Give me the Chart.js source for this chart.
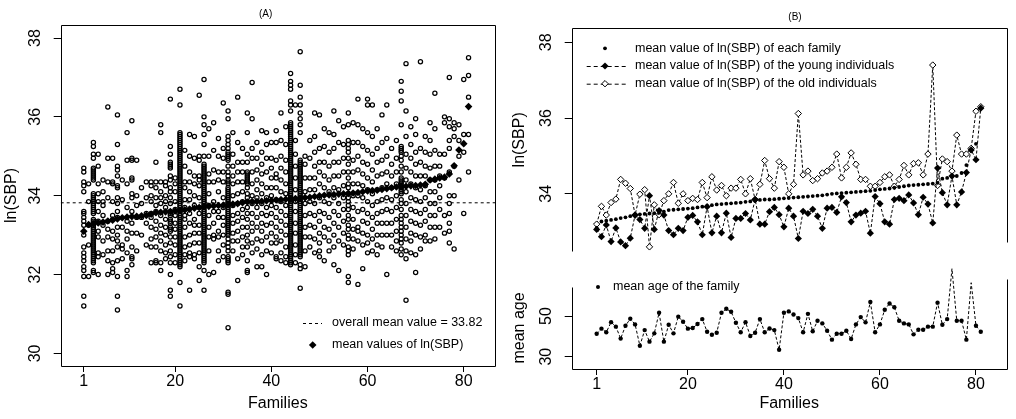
<!DOCTYPE html>
<html>
<head>
<meta charset="utf-8">
<script src="https://cdn.jsdelivr.net/npm/chart.js@4"></script>
<style>
  body { margin: 0; background: #fff; width: 1016px; height: 419px; overflow: hidden; position: relative; }
  canvas { position: absolute; }
</style>
</head>
<body>
<canvas id="panelA" width="520" height="419" style="left:0;top:0"></canvas>
<canvas id="panelB1" width="511" height="270" style="left:505px;top:0"></canvas>
<canvas id="panelB2" width="511" height="179" style="left:505px;top:240px"></canvas>
<script>
// ---- data ----
const xTicks = [1, 20, 40, 60, 80];
const sbpTicks = [30, 32, 34, 36, 38];
const sbpTicksB = [34, 36, 38];
const ageTicks = [30, 50];
const overallMean = 33.82;

// family means of ln(SBP), families sorted by mean
const familyMean = [33.10, 33.27, 33.29, 33.31, 33.33, 33.36, 33.38, 33.41, 33.44, 33.46,
  33.47, 33.48, 33.49, 33.50, 33.53, 33.57, 33.58, 33.59, 33.60, 33.61,
  33.62, 33.64, 33.66, 33.68, 33.70, 33.72, 33.73, 33.74, 33.75, 33.76,
  33.77, 33.79, 33.80, 33.82, 33.84, 33.85, 33.85, 33.86, 33.87, 33.88,
  33.89, 33.90, 33.91, 33.92, 33.93, 33.94, 33.95, 33.96, 33.98, 34.00,
  34.01, 34.02, 34.03, 34.04, 34.05, 34.06, 34.07, 34.08, 34.10, 34.12,
  34.13, 34.14, 34.16, 34.18, 34.20, 34.22, 34.23, 34.24, 34.25, 34.26,
  34.27, 34.29, 34.40, 34.42, 34.45, 34.47, 34.55, 34.76, 35.16, 35.32, 36.26];

const youngMean = [33.06, 32.87, 33.18, 32.74, 33.10, 32.73, 32.63, 32.83, 33.44, 33.32,
  33.09, 33.95, 33.06, 33.56, 33.44, 33.03, 32.92, 33.09, 33.03, 33.38,
  33.43, 33.26, 32.92, 33.66, 32.97, 33.41, 32.97, 33.49, 32.85, 33.35,
  33.35, 33.48, 33.31, 33.85, 33.20, 33.20, 33.53, 33.64, 33.45, 33.13,
  33.62, 33.41, 32.82, 33.54, 33.48, 33.59, 33.41, 33.09, 33.62, 33.64,
  33.51, 33.92, 33.77, 33.26, 33.44, 33.49, 33.54, 32.96, 33.93, 33.74,
  33.26, 33.20, 33.85, 33.88, 33.82, 33.97, 33.76, 33.45, 33.91, 33.73,
  33.23, 34.68, 34.03, 33.71, 34.47, 33.71, 34.05, 34.56, 35.16, 34.90, 36.26];

const oldMean = [33.20, 33.67, 33.44, 33.77, 33.86, 34.38, 34.28, 34.14, 33.44, 33.99,
  34.11, 32.60, 33.71, 33.45, 33.82, 34.00, 34.30, 33.75, 34.00, 33.82,
  33.88, 33.85, 34.30, 33.90, 34.45, 34.10, 34.22, 33.95, 34.15, 34.15,
  34.38, 34.00, 34.40, 33.85, 34.25, 34.88, 34.40, 34.15, 34.85, 34.70,
  34.00, 34.25, 36.12, 34.50, 34.60, 34.35, 34.40, 34.55, 34.60, 34.70,
  35.05, 34.42, 34.70, 35.08, 34.78, 34.38, 34.38, 34.20, 34.20, 34.30,
  34.45, 34.50, 34.20, 34.38, 34.75, 34.50, 34.80, 34.82, 34.50, 35.05,
  37.40, 34.22, 34.92, 34.85, 34.60, 35.55, 35.05, 35.05, 35.20, 36.18, 36.30];

const meanAge = [41.3, 43.8, 42.0, 47.0, 44.8, 38.9, 45.2, 48.7, 45.9, 35.4,
  43.1, 37.4, 41.5, 51.6, 37.4, 45.7, 41.5, 49.7, 47.2, 43.8,
  44.1, 46.1, 48.5, 42.3, 40.8, 41.8, 51.6, 53.6, 52.1, 46.7,
  42.0, 47.0, 40.2, 41.8, 48.5, 42.0, 43.9, 43.1, 33.4, 51.6,
  52.3, 50.8, 49.0, 42.0, 51.1, 42.5, 47.7, 46.4, 42.8, 38.4,
  41.3, 41.3, 42.8, 38.7, 45.9, 49.5, 46.9, 56.9, 42.0, 45.9,
  53.1, 56.2, 54.3, 47.7, 46.4, 45.9, 41.0, 43.3, 43.3, 44.8,
  44.8, 56.6, 45.7, 48.5, 73.3, 47.7, 47.7, 38.4, 66.4, 45.2, 42.3];

// individual ln(SBP) values, one list per family
const sbpByFamily = [
  [34.7, 34.6, 34.35, 34.25, 34.1, 33.6, 33.55, 33.45, 33.35, 33.25, 33.0, 32.7, 32.55, 32.45, 32.35, 32.2, 32.1, 31.95, 31.45, 31.2],
  [34.3, 33.85, 33.25, 32.75, 31.95],
  [35.35, 35.25, 35.05, 34.95, 34.7, 34.65, 34.6, 34.55, 34.5, 34.45, 34.4, 34.05, 34.0, 33.95, 33.9, 33.85, 33.8, 33.75, 33.7, 33.65, 33.6, 33.55, 33.4, 33.35, 33.3, 33.25, 33.2, 33.15, 33.1, 33.05, 33.0, 32.95, 32.9, 32.85, 32.8, 32.75, 32.7, 32.65, 32.6, 32.55, 32.5, 32.45, 32.4, 32.35, 32.3, 32.1, 32.05],
  [35.05, 34.75, 34.3, 34.05, 33.85, 33.6, 33.35, 33.1, 32.95, 32.55, 32.45, 32.0],
  [34.4, 34.1, 33.85, 33.75, 33.5, 33.25, 32.85, 32.5],
  [36.25, 34.95, 34.35, 33.95, 33.35, 33.15, 32.95, 32.6, 32.35, 32.0],
  [34.95, 34.35, 34.3, 33.85, 33.5, 33.4, 33.1, 32.9, 32.6, 32.3, 32.15, 32.05],
  [36.05, 35.3, 34.75, 34.65, 34.5, 34.25, 34.2, 33.95, 33.8, 33.6, 33.45, 33.2, 33.0, 32.85, 32.7, 32.35, 31.95, 31.45, 31.1],
  [34.4, 33.9, 33.2, 32.75, 32.65, 32.4],
  [35.6, 34.9, 34.3, 33.7, 33.35, 33.1, 32.9, 32.55, 32.1, 31.95],
  [35.9, 34.95, 34.9, 34.45, 34.4, 34.05, 33.95, 33.6, 33.3, 33.05, 32.7, 32.45, 32.4, 32.25],
  [34.9, 34.0, 33.75, 33.45, 33.05, 32.6],
  [34.2, 33.8, 33.45, 33.0],
  [34.35, 33.95, 33.55, 33.3, 32.75],
  [34.35, 34.25, 34.0, 33.85, 33.55, 33.45, 33.2, 32.9, 32.7, 32.3],
  [34.85, 34.35, 34.2, 33.95, 33.75, 33.6, 33.35, 33.15, 32.95, 32.7, 32.35, 32.3],
  [35.8, 35.6, 34.35, 34.1, 33.95, 33.8, 33.5, 33.25, 33.05, 32.85, 32.6, 32.3, 32.1],
  [34.35, 34.25, 34.0, 33.85, 33.7, 33.4, 33.2, 33.0, 32.75, 32.55, 32.4],
  [36.45, 35.25, 35.05, 34.85, 34.8, 34.75, 34.7, 34.5, 34.4, 34.2, 34.1, 33.95, 33.8, 33.6, 33.55, 33.5, 33.4, 33.35, 33.3, 33.2, 33.15, 33.1, 32.95, 32.8, 32.6, 32.45, 32.3, 32.0, 31.6, 31.45],
  [34.45, 34.3, 34.1, 33.85, 33.65, 33.5, 33.3, 33.15, 32.95, 32.75, 32.5, 32.3],
  [36.7, 36.3, 35.6, 35.55, 35.5, 35.45, 35.4, 35.35, 35.3, 35.25, 35.2, 35.15, 35.1, 35.05, 35.0, 34.95, 34.9, 34.85, 34.8, 34.75, 34.7, 34.65, 34.6, 34.55, 34.5, 34.45, 34.4, 34.35, 34.3, 34.25, 34.2, 34.15, 34.1, 34.05, 34.0, 33.95, 33.9, 33.85, 33.8, 33.75, 33.7, 33.65, 33.6, 33.55, 33.5, 33.45, 33.4, 33.35, 33.3, 33.25, 33.2, 33.15, 33.1, 33.05, 33.0, 32.95, 32.9, 32.85, 32.8, 32.75, 32.7, 32.65, 32.6, 32.55, 32.5, 32.45, 32.4, 32.35, 32.3, 32.25, 32.2, 31.8, 31.2],
  [35.15, 34.75, 34.35, 34.2, 33.9, 33.7, 33.5, 33.4, 33.2, 32.95, 32.7, 32.5, 32.35],
  [35.55, 35.0, 34.6, 34.35, 34.1, 33.9, 33.55, 33.3, 33.0, 32.75, 32.55, 32.45, 31.6],
  [35.5, 34.95, 34.5, 34.3, 34.0, 33.75, 33.4, 33.25, 33.05, 32.8, 32.5, 32.4],
  [36.55, 35.0, 34.9, 34.5, 34.4, 34.25, 33.95, 33.7, 33.55, 33.25, 33.05, 32.8, 32.55, 32.2, 31.85],
  [36.95, 36.0, 35.8, 35.55, 35.3, 35.0, 34.8, 34.75, 34.7, 34.65, 34.6, 34.55, 34.5, 34.45, 34.4, 34.35, 34.3, 34.25, 34.2, 34.15, 34.1, 34.05, 34.0, 33.95, 33.9, 33.85, 33.8, 33.75, 33.7, 33.65, 33.6, 33.55, 33.5, 33.45, 33.4, 33.35, 33.3, 33.25, 33.2, 33.15, 33.1, 33.05, 33.0, 32.95, 32.9, 32.85, 32.8, 32.75, 32.7, 32.65, 32.6, 32.55, 32.5, 32.45, 32.4, 32.35, 32.3, 32.1, 31.6],
  [35.7, 35.0, 34.55, 34.35, 34.05, 33.75, 33.5, 33.2, 32.95, 32.6, 32.0],
  [35.85, 35.15, 34.65, 34.35, 33.85, 33.6, 33.3, 33.0, 32.9, 32.05],
  [35.45, 35.0, 34.6, 34.4, 34.1, 33.6, 33.45, 33.1, 32.95, 32.6, 32.35],
  [36.35, 35.2, 34.95, 34.6, 34.35, 33.95, 33.7, 33.45, 33.25, 33.0, 32.75, 32.45],
  [36.15, 35.95, 35.5, 35.4, 35.3, 35.2, 35.1, 35.05, 35.0, 34.95, 34.9, 34.75, 34.6, 34.5, 34.4, 34.35, 34.3, 34.2, 34.15, 34.1, 34.05, 34.0, 33.95, 33.9, 33.85, 33.8, 33.75, 33.7, 33.65, 33.6, 33.55, 33.5, 33.45, 33.4, 33.35, 33.3, 33.25, 33.2, 33.15, 33.1, 33.05, 33.0, 32.9, 32.8, 32.7, 32.6, 32.45, 32.4, 32.35, 32.3, 31.55, 31.5, 30.65],
  [35.6, 35.05, 34.75, 34.5, 34.3, 34.0, 33.75, 33.5, 33.3, 33.05, 32.85, 32.6],
  [36.5, 35.35, 34.85, 34.6, 34.35, 34.05, 33.8, 33.55, 33.35, 33.1, 32.85, 32.4, 31.85],
  [35.2, 34.85, 34.6, 34.35, 34.1, 33.85, 33.65, 33.45, 33.2, 32.95, 32.7, 32.5],
  [36.1, 35.6, 35.05, 34.85, 34.6, 34.55, 34.5, 34.45, 34.4, 34.35, 34.3, 34.2, 34.05, 33.95, 33.85, 33.7, 33.55, 33.4, 33.2, 33.0, 32.85, 32.7, 32.35, 32.1, 32.05],
  [36.87, 35.95, 35.2, 34.95, 34.6, 34.3, 34.0, 33.8, 33.55, 33.3, 33.1, 32.8, 32.55],
  [35.35, 34.95, 34.65, 34.4, 34.15, 33.95, 33.7, 33.45, 33.2, 32.9, 32.65, 32.2],
  [35.65, 35.1, 34.8, 34.55, 34.3, 34.05, 33.8, 33.55, 33.3, 33.1, 32.85, 32.5, 32.2],
  [35.6, 35.3, 34.95, 34.6, 34.2, 33.95, 33.7, 33.5, 33.25, 32.95, 32.6, 32.0],
  [35.35, 34.95, 34.7, 34.45, 34.2, 34.0, 33.75, 33.55, 33.3, 33.05, 32.8, 32.55],
  [35.65, 35.35, 34.9, 34.55, 34.45, 34.2, 33.9, 33.7, 33.45, 33.2, 32.95, 32.8, 32.45, 32.4],
  [36.1, 35.4, 35.0, 34.7, 34.4, 34.1, 33.85, 33.6, 33.35, 33.1, 32.85, 32.55, 32.35],
  [35.75, 35.3, 34.9, 34.6, 34.3, 34.05, 33.75, 33.5, 33.25, 33.0, 32.7, 32.45, 32.3],
  [37.1, 36.9, 36.8, 36.7, 36.4, 36.3, 36.15, 35.85, 35.8, 35.75, 35.7, 35.65, 35.6, 35.55, 35.5, 35.45, 35.4, 35.35, 35.3, 35.25, 35.2, 35.15, 35.1, 35.05, 35.0, 34.95, 34.9, 34.85, 34.8, 34.75, 34.7, 34.65, 34.6, 34.55, 34.5, 34.45, 34.4, 34.35, 34.3, 34.25, 34.2, 34.15, 34.1, 34.05, 34.0, 33.95, 33.9, 33.85, 33.8, 33.75, 33.7, 33.65, 33.6, 33.55, 33.5, 33.45, 33.4, 33.35, 33.3, 33.25, 33.2, 33.15, 33.1, 33.05, 33.0, 32.95, 32.9, 32.85, 32.8, 32.75, 32.7, 32.65, 32.6, 32.55, 32.5, 32.45, 32.4, 32.35, 32.3, 32.25],
  [36.3, 35.4, 35.05, 34.75, 34.45, 34.15, 33.85, 33.6, 33.3, 33.05, 32.75, 32.5, 32.3],
  [37.65, 36.8, 36.5, 36.3, 36.1, 35.95, 35.8, 35.6, 34.9, 34.85, 34.8, 34.75, 34.7, 34.65, 34.6, 34.55, 34.5, 34.45, 34.4, 34.35, 34.3, 34.25, 34.2, 34.15, 34.1, 34.05, 34.0, 33.95, 33.9, 33.85, 33.8, 33.75, 33.7, 33.65, 33.6, 33.55, 33.5, 33.45, 33.4, 33.35, 33.3, 33.25, 33.2, 33.15, 33.1, 33.05, 33.0, 32.95, 32.9, 32.85, 32.8, 32.75, 32.7, 32.65, 32.6, 32.55, 32.5, 32.45, 32.25, 32.15, 31.65],
  [35.0, 34.8, 34.45, 34.1, 33.8, 33.5, 33.2, 32.95, 32.6, 32.2],
  [35.4, 34.95, 34.45, 34.15, 33.85, 33.55, 33.25, 32.95, 32.7],
  [36.1, 35.5, 35.1, 34.75, 34.45, 34.15, 33.8, 33.5, 33.2, 32.9, 32.55],
  [36.05, 35.2, 34.85, 34.6, 34.3, 33.95, 33.6, 33.35, 33.05, 32.8, 32.6, 32.45],
  [35.7, 35.25, 34.85, 34.5, 34.2, 33.85, 33.55, 33.2, 32.95, 32.35],
  [35.6, 35.1, 34.75, 34.4, 34.1, 33.8, 33.45, 33.15, 32.85, 32.6],
  [36.15, 35.55, 35.2, 34.85, 34.5, 34.2, 33.95, 33.6, 33.3, 33.0, 32.7, 32.25],
  [35.9, 35.35, 34.85, 34.5, 34.15, 33.8, 33.5, 33.2, 32.85, 32.1],
  [35.75, 35.3, 34.95, 34.6, 34.25, 33.95, 33.65, 33.35, 33.05, 32.75],
  [36.1, 35.8, 35.4, 35.3, 35.2, 35.1, 34.95, 34.8, 34.6, 34.45, 34.3, 34.2, 34.05, 33.95, 33.85, 33.75, 33.65, 33.5, 33.4, 33.25, 33.15, 33.0, 32.9, 32.7, 32.6, 32.5, 31.95, 31.8],
  [35.85, 35.35, 34.9, 34.6, 34.3, 34.0, 33.7, 33.4, 33.15, 32.9, 32.65],
  [36.45, 35.8, 35.35, 35.0, 34.65, 34.3, 34.0, 33.6, 33.2, 33.1, 32.85, 31.75],
  [35.7, 35.25, 34.85, 34.55, 34.25, 33.95, 33.65, 33.35, 33.05, 32.75, 32.15],
  [36.45, 36.3, 35.6, 35.15, 34.8, 34.45, 34.15, 33.85, 33.55, 33.3, 33.0, 32.8, 32.55],
  [36.3, 35.5, 35.05, 34.65, 34.35, 34.05, 33.75, 33.45, 33.15, 32.9, 32.6],
  [35.7, 35.2, 34.85, 34.5, 34.15, 33.85, 33.55, 33.3, 33.0, 32.75, 32.5],
  [36.05, 35.35, 34.9, 34.55, 34.2, 33.9, 33.6, 33.3, 33.0, 32.7],
  [36.3, 35.45, 35.0, 34.6, 34.3, 33.95, 33.65, 33.3, 33.0, 32.0],
  [35.2, 34.8, 34.5, 34.2, 33.9, 33.6, 33.3, 33.0, 32.7],
  [35.4, 34.95, 34.6, 34.3, 34.0, 33.7, 33.4, 33.1, 32.85, 32.6],
  [36.9, 36.65, 36.4, 35.8, 35.25, 35.2, 35.15, 35.1, 35.0, 34.9, 34.75, 34.6, 34.45, 34.4, 34.35, 34.3, 34.25, 34.2, 34.15, 34.1, 34.05, 33.9, 33.8, 33.65, 33.5, 33.4, 33.3, 33.2, 33.1, 33.0, 32.9, 32.8, 32.65, 32.5],
  [37.35, 36.15, 35.5, 35.05, 34.7, 34.4, 34.1, 33.8, 33.5, 33.2, 32.9, 32.6, 32.4, 31.35],
  [35.75, 35.3, 34.95, 34.6, 34.3, 33.95, 33.65, 33.35, 33.05, 32.85, 32.55],
  [35.95, 35.55, 35.1, 34.8, 34.5, 34.2, 33.9, 33.6, 33.3, 33.0, 32.5, 32.05],
  [37.4, 35.2, 34.85, 34.5, 34.15, 33.85, 33.55, 33.25, 32.95, 32.65],
  [35.5, 35.1, 34.75, 34.5, 34.25, 33.95, 33.65, 33.35, 33.0, 32.85],
  [35.85, 35.4, 35.05, 34.7, 34.4, 34.1, 33.8, 33.5, 33.2, 32.85],
  [36.6, 35.7, 35.15, 34.75, 34.4, 34.1, 33.8, 33.5, 33.2, 32.9],
  [35.05, 34.75, 34.5, 34.25, 33.95, 33.65, 33.2],
  [36.0, 35.85, 35.05, 34.45, 33.5, 33.05],
  [37.0, 35.95, 35.75, 35.4, 35.2, 34.6, 34.0, 33.8, 33.55, 33.3, 33.1, 32.8],
  [35.85, 35.7, 35.5, 34.75, 34.0, 32.65],
  [35.8, 35.4, 35.0, 34.4],
  [36.95, 35.55, 35.1, 33.55],
  [37.5, 37.05, 36.5, 35.55, 34.6]
];

// ---- helpers ----
const FONT = '"Liberation Sans", Arial, Helvetica, sans-serif';
Chart.defaults.font.family = FONT;
Chart.defaults.color = '#000';

const asPoints = vals => vals.map((v, i) => ({ x: i + 1, y: v }));
const sbpPoints = [];
sbpByFamily.forEach((vals, i) => vals.forEach(v => sbpPoints.push({ x: i + 1, y: v })));

function drawMark(ctx, kind, x, y, r) {
  ctx.beginPath();
  if (kind === 'dot') {
    ctx.arc(x, y, r, 0, Math.PI * 2);
  } else {
    ctx.moveTo(x, y - r); ctx.lineTo(x + r, y); ctx.lineTo(x, y + r); ctx.lineTo(x - r, y); ctx.closePath();
  }
  if (kind === 'open') {
    ctx.fillStyle = '#fff'; ctx.fill(); ctx.fillStyle = '#000'; ctx.stroke();
  } else {
    ctx.fill();
  }
}

// box lines round the plot region (partial for panel B)
const framePlugin = {
  id: 'frame',
  afterDraw(chart, args, opts) {
    const { ctx, chartArea: a } = chart;
    const l = Math.round(a.left) + 0.5, r = Math.round(a.right) + 0.5;
    const t = Math.round(a.top) + 0.5, b = Math.round(a.bottom) + 0.5;
    ctx.save();
    ctx.strokeStyle = '#000';
    ctx.lineWidth = 1;
    ctx.beginPath();
    if (opts.top) { ctx.moveTo(l, t); ctx.lineTo(r, t); }
    if (opts.bottom) { ctx.moveTo(l, b); ctx.lineTo(r, b); }
    ctx.moveTo(l, t); ctx.lineTo(l, b);
    ctx.moveTo(r, t - (opts.rightUp || 0)); ctx.lineTo(r, b - (opts.rightCut || 0));
    ctx.stroke();
    ctx.restore();
  }
};

// panel titles and legends
const notesPlugin = {
  id: 'notes',
  afterDraw(chart, args, opts) {
    const ctx = chart.ctx;
    ctx.save();
    ctx.fillStyle = '#000';
    ctx.strokeStyle = '#000';
    ctx.lineWidth = 1;
    ctx.textBaseline = 'middle';
    (opts.items || []).forEach(it => {
      if (it.dash) {
        ctx.setLineDash(it.dash);
        ctx.beginPath(); ctx.moveTo(it.x0, it.y + 0.5); ctx.lineTo(it.x1, it.y + 0.5); ctx.stroke();
        ctx.setLineDash([]);
      }
      if (it.mark) drawMark(ctx, it.mark, it.mx, it.y, it.r);
      if (it.text) {
        ctx.font = it.font;
        ctx.textAlign = it.align || 'left';
        ctx.fillText(it.text, it.tx, it.y);
      }
    });
    ctx.restore();
  }
};

function xScale(min, max, opts) {
  return Object.assign({
    type: 'linear', min: min, max: max,
    afterBuildTicks: s => { s.ticks = xTicks.map(v => ({ value: v })); },
    grid: { drawOnChartArea: false, tickLength: 6, color: '#000' },
    border: { display: false },
    ticks: { font: { size: 16 }, padding: 0, maxRotation: 0, autoSkip: false },
    title: { display: true, text: 'Families', font: { size: 16 }, padding: { top: 0, bottom: 6 } }
  }, opts);
}

function yScale(min, max, ticks, title, width, titlePad) {
  return {
    type: 'linear', min: min, max: max,
    afterBuildTicks: s => { s.ticks = ticks.map(v => ({ value: v })); },
    grid: { drawOnChartArea: false, tickLength: 7, color: '#000' },
    border: { display: false },
    ticks: { font: { size: 16 }, minRotation: 90, maxRotation: 90, crossAlign: 'center', padding: 9 },
    title: { display: true, text: title, font: { size: 16 }, padding: { top: titlePad, bottom: 0 } },
    afterFit: s => { s.width = width; }
  };
}

const small = '12.5px ' + FONT;

// ---- panel A ----
new Chart(document.getElementById('panelA'), {
  type: 'scatter',
  data: {
    datasets: [
      {
        data: sbpPoints, order: 3,
        pointStyle: 'circle', pointRadius: 2.1, pointBorderWidth: 1.25,
        pointBorderColor: '#000', pointBackgroundColor: 'rgba(0,0,0,0)'
      },
      {
        type: 'line', order: 2,
        data: [{ x: -3.8, y: overallMean }, { x: 86.5, y: overallMean }],
        borderColor: '#000', borderWidth: 1, borderDash: [3, 3], pointRadius: 0
      },
      {
        data: asPoints(familyMean), order: 1,
        pointStyle: 'rectRot', pointRadius: 3.8, pointBorderWidth: 0,
        pointBackgroundColor: '#000', pointBorderColor: '#000'
      }
    ]
  },
  options: {
    responsive: false, animation: false,
    layout: { padding: { top: 25, right: 25, left: 0, bottom: 0 } },
    scales: {
      x: xScale(-3.8, 86.5, { afterFit: s => { s.height = 53; } }),
      y: yScale(29.68, 38.33, sbpTicks, 'ln(SBP)', 60.7, 2.4)
    },
    plugins: {
      legend: { display: false }, tooltip: { enabled: false },
      frame: { top: true, bottom: true },
      notes: {
        items: [
          { text: '(A)', tx: 265.7, y: 14, font: '10px ' + FONT, align: 'center' },
          { dash: [3, 3], x0: 303, x1: 322, y: 323, text: 'overall mean value = 33.82', tx: 332, font: small },
          { mark: 'diamond', mx: 312.7, r: 3.8, y: 345, text: 'mean values of ln(SBP)', tx: 332, font: small }
        ]
      }
    }
  },
  plugins: [framePlugin, notesPlugin]
});

// ---- panel B, upper part ----
new Chart(document.getElementById('panelB1'), {
  type: 'line',
  data: {
    datasets: [
      {
        data: asPoints(familyMean), showLine: false, order: 1,
        pointStyle: 'circle', pointRadius: 1.9, pointBorderWidth: 0,
        pointBackgroundColor: '#000'
      },
      {
        data: asPoints(youngMean), order: 2,
        borderColor: '#000', borderWidth: 1, borderDash: [3, 2],
        pointStyle: 'rectRot', pointRadius: 3.6, pointBorderWidth: 0,
        pointBackgroundColor: '#000'
      },
      {
        data: asPoints(oldMean), order: 3,
        borderColor: '#000', borderWidth: 1, borderDash: [3, 2],
        pointStyle: 'rectRot', pointRadius: 3.2, pointBorderWidth: 1,
        pointBackgroundColor: '#fff', pointBorderColor: '#000'
      }
    ]
  },
  options: {
    responsive: false, animation: false,
    layout: { padding: { top: 28.3, right: 9.3, left: 0, bottom: 12 } },
    scales: {
      x: { type: 'linear', min: -4.2, max: 86.4, display: false },
      y: yScale(32.48, 38.37, sbpTicksB, 'ln(SBP)', 66.7, 5.4)
    },
    plugins: {
      legend: { display: false }, tooltip: { enabled: false },
      frame: { top: true, bottom: false, rightCut: 9 },
      notes: {
        items: [
          { text: '(B)', tx: 290, y: 17, font: '10px ' + FONT, align: 'center' },
          { mark: 'dot', mx: 100, r: 1.9, y: 48.3, text: 'mean value of ln(SBP) of each family', tx: 130, font: small },
          { dash: [4, 3], x0: 81.7, x1: 121, mark: 'diamond', mx: 100, r: 3.6, y: 66, text: 'mean value of ln(SBP) of the young individuals', tx: 130, font: small },
          { dash: [4, 3], x0: 81.7, x1: 121, mark: 'open', mx: 100, r: 3.2, y: 83.7, text: 'mean value of ln(SBP) of the old individuals', tx: 130, font: small }
        ]
      }
    }
  },
  plugins: [framePlugin, notesPlugin]
});

// ---- panel B, lower part ----
new Chart(document.getElementById('panelB2'), {
  type: 'line',
  data: {
    datasets: [
      {
        data: asPoints(meanAge), clip: false,
        borderColor: '#000', borderWidth: 1, borderDash: [3, 2],
        pointStyle: 'circle', pointRadius: 2.2, pointBorderWidth: 0,
        pointBackgroundColor: '#000'
      }
    ]
  },
  options: {
    responsive: false, animation: false,
    layout: { padding: { top: 47, right: 9.3, left: 0, bottom: 0 } },
    scales: {
      x: xScale(-4.2, 86.4, { afterFit: s => { s.height = 50; } }),
      y: yScale(23.95, 64.3, ageTicks, 'mean age', 66.7, 5.4)
    },
    plugins: {
      legend: { display: false }, tooltip: { enabled: false },
      frame: { top: false, bottom: true, rightUp: 8 },
      notes: {
        items: [
          { mark: 'dot', mx: 93, r: 2, y: 47, text: 'mean age of the family', tx: 108, font: small }
        ]
      }
    }
  },
  plugins: [framePlugin, notesPlugin]
});
</script>
</body>
</html>
